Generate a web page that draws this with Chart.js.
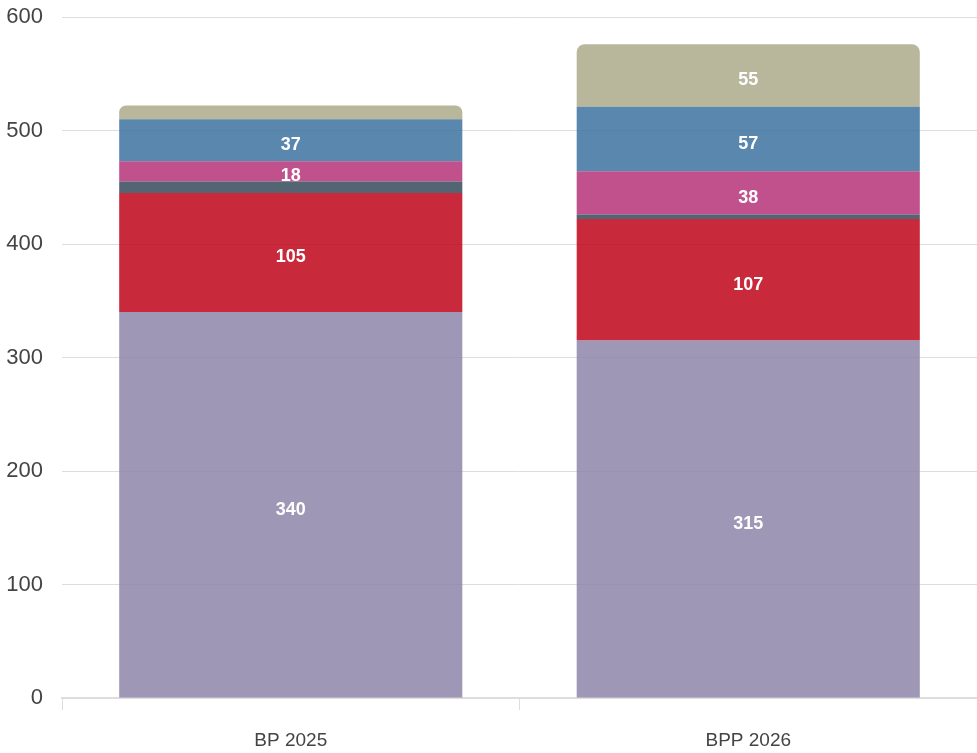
<!DOCTYPE html>
<html>
<head>
<meta charset="utf-8">
<script src="https://cdn.jsdelivr.net/npm/chart.js@4.4.1/dist/chart.umd.min.js"></script>
<style>
  html, body { margin: 0; padding: 0; background: #fff; overflow: hidden; }
  canvas { display: block; }
</style>
</head>
<body>
<canvas id="grafico" width="977" height="753"></canvas>
<script>
// categories
var categorie = ['BP 2025', 'BPP 2026'];

// series values, bottom to top of the stack
var serie1 = [340, 315];
var serie2 = [105, 107];
var serie3 = [10, 4];
var serie4 = [18, 38];
var serie5 = [37, 57];
var serie6 = [12, 55];

var nomiSerie = ['Série 1', 'Série 2', 'Série 3', 'Série 4', 'Série 5', 'Série 6'];
var colori = [
  'rgba(141,133,169,0.85)',
  'rgba(190,4,25,0.85)',
  'rgba(53,73,90,0.85)',
  'rgba(182,50,121,0.85)',
  'rgba(61,114,160,0.85)',
  'rgba(172,170,137,0.85)'
];

var yTicks = [0, 100, 200, 300, 400, 500, 600];

var valori = [serie1, serie2, serie3, serie4, serie5, serie6];
var datasets = [];
for (var i = 0; i < valori.length; i++) {
  datasets.push({
    label: nomiSerie[i],
    data: valori[i],
    backgroundColor: colori[i],
    borderWidth: 0,
    borderRadius: 8,
    barPercentage: 0.75,
    categoryPercentage: 1
  });
}

// scrive il valore al centro dei segmenti abbastanza grandi
var etichette = {
  id: 'etichette',
  afterDatasetsDraw: function (chart) {
    var ctx = chart.ctx;
    ctx.save();
    ctx.fillStyle = '#ffffff';
    ctx.font = 'bold 18px "Liberation Sans", Arial, sans-serif';
    ctx.textAlign = 'center';
    ctx.textBaseline = 'middle';
    chart.data.datasets.forEach(function (ds, di) {
      var meta = chart.getDatasetMeta(di);
      meta.data.forEach(function (bar, j) {
        var v = ds.data[j];
        if (v < 15) return;
        ctx.fillText(String(v), bar.x, (bar.y + bar.base) / 2 + 5);
      });
    });
    ctx.restore();
  }
};

new Chart(document.getElementById('grafico'), {
  type: 'bar',
  data: { labels: categorie, datasets: datasets },
  options: {
    responsive: false,
    animation: false,
    devicePixelRatio: 1,
    layout: { padding: { top: 17, right: 0, left: 0, bottom: 0 } },
    plugins: {
      legend: { display: false },
      tooltip: { enabled: false }
    },
    scales: {
      x: {
        stacked: true,
        offset: true,
        grid: { drawOnChartArea: false, tickLength: 12, color: '#dddddd', offset: true },
        border: { color: '#dddddd', width: 2 },
        afterFit: function (axis) {
          axis.height = 55;
        },
        ticks: {
          padding: 19,
          color: '#444444',
          font: { family: '"Liberation Sans", Arial, sans-serif', size: 19 }
        }
      },
      y: {
        stacked: true,
        min: 0,
        max: 600,
        afterBuildTicks: function (axis) {
          axis.ticks = yTicks.map(function (t) { return { value: t }; });
        },
        afterFit: function (axis) {
          axis.width = 62;
          axis.paddingTop = 0;
          axis.paddingBottom = 0;
        },
        grid: { color: '#dddddd', drawTicks: false },
        border: { display: false },
        ticks: {
          padding: 19,
          color: '#444444',
          font: { family: '"Liberation Sans", Arial, sans-serif', size: 22 }
        }
      }
    }
  },
  plugins: [etichette]
});
</script>
</body>
</html>
